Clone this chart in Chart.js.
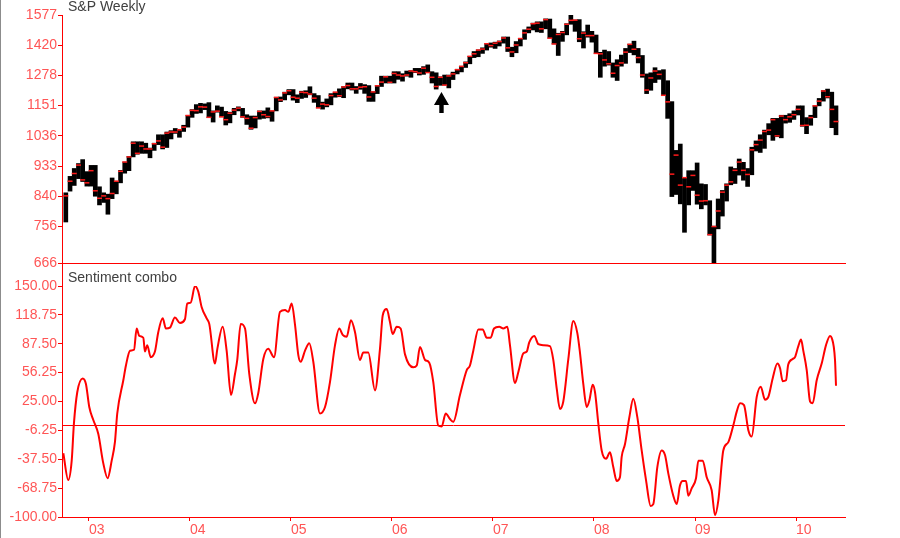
<!DOCTYPE html>
<html>
<head>
<meta charset="utf-8">
<script src="https://cdn.jsdelivr.net/npm/chart.js@4/dist/chart.umd.min.js"></script>
<style>
  body { margin: 0; background: #fff; }
  #wrap { position: relative; width: 899px; height: 538px; border-left: 1px solid #8c8c8c; background: #fff; }
  #top { position: absolute; left: 0; top: 0; }
  #bot { position: absolute; left: 0; top: 264px; }
</style>
</head>
<body>
<div id="wrap">
  <canvas id="bot" width="899" height="274"></canvas>
  <canvas id="top" width="899" height="274"></canvas>
</div>
<script>
// S&P 500, half-month bars from Oct 2002 to May 2010 (high / low / close)
var spHigh = [
  850, 900, 925, 941, 954, 915,                                                                   // 2002 Oct-Dec
  935, 935, 868, 850, 846, 895, 885, 919, 946, 965, 1015, 1015, 1015, 1010, 993, 1010, 1040, 1040, 1050, 1055, 1063, 1060, 1075, 1112, // 2003
  1135, 1155, 1160, 1158, 1163, 1130, 1150, 1145, 1128, 1125, 1140, 1146, 1140, 1115, 1110, 1110, 1130, 1130, 1142, 1130, 1185, 1186, 1206, 1217, // 2004
  1217, 1195, 1210, 1212, 1229, 1200, 1192, 1165, 1178, 1200, 1206, 1220, 1230, 1245, 1245, 1230, 1243, 1238, 1234, 1208, 1235, 1275, 1275, 1275, // 2005
  1295, 1295, 1286, 1298, 1300, 1310, 1310, 1318, 1326, 1295, 1290, 1272, 1280, 1280, 1293, 1306, 1320, 1340, 1366, 1389, 1397, 1407, 1428, 1431, // 2006
  1435, 1441, 1461, 1461, 1410, 1438, 1453, 1498, 1513, 1533, 1540, 1540, 1556, 1555, 1503, 1480, 1490, 1530, 1576, 1550, 1552, 1488, 1523, 1490, // 2007
  1471, 1385, 1396, 1389, 1335, 1350, 1372, 1404, 1425, 1440, 1404, 1370, 1285, 1290, 1313, 1300, 1304, 1255, 1167, 985, 1007, 896, 918, 918,     // 2008
  943, 877, 875, 827, 757, 832, 857, 877, 930, 925, 956, 945, 925, 996, 1018, 1040, 1057, 1081, 1101, 1101, 1113, 1113, 1119, 1130,             // 2009
  1150, 1150, 1104, 1113, 1150, 1180, 1213, 1219, 1206, 1150                                      // 2010 Jan-May
];
var spLow = [
  768, 855, 872, 893, 884, 870,
  870, 840, 815, 822, 789, 833, 847, 880, 910, 918, 963, 972, 975, 975, 960, 985, 1005, 990, 995, 1025, 1045, 1031, 1052, 1068,
  1105, 1120, 1122, 1135, 1104, 1087, 1125, 1107, 1076, 1084, 1115, 1130, 1105, 1078, 1060, 1065, 1098, 1101, 1103, 1090, 1130, 1167, 1174, 1195,
  1173, 1163, 1180, 1184, 1195, 1164, 1142, 1137, 1146, 1154, 1185, 1187, 1183, 1220, 1215, 1201, 1218, 1201, 1168, 1168, 1200, 1230, 1245, 1245,
  1245, 1261, 1253, 1275, 1270, 1291, 1280, 1283, 1291, 1245, 1219, 1235, 1236, 1224, 1260, 1285, 1294, 1314, 1331, 1360, 1364, 1380, 1396, 1410,
  1404, 1416, 1430, 1389, 1364, 1383, 1416, 1449, 1482, 1497, 1487, 1484, 1503, 1455, 1426, 1370, 1439, 1472, 1527, 1490, 1437, 1406, 1460, 1435,
  1380, 1270, 1320, 1325, 1270, 1256, 1320, 1333, 1384, 1373, 1335, 1270, 1200, 1214, 1247, 1261, 1192, 1101, 839, 845, 818, 741, 815, 857,
  817, 804, 815, 734, 666, 750, 784, 826, 874, 878, 904, 888, 869, 905, 983, 978, 992, 1040, 1020, 1033, 1029, 1083, 1086, 1097,
  1114, 1071, 1044, 1075, 1104, 1150, 1169, 1182, 1066, 1040
];
var spClose = [
  841, 885, 909, 936, 889, 880,
  918, 856, 834, 841, 833, 848, 885, 916, 946, 963, 1010, 975, 1000, 990, 990, 1008, 1018, 996, 1046, 1050, 1050, 1058, 1068, 1112,
  1132, 1131, 1146, 1145, 1105, 1126, 1129, 1107, 1096, 1121, 1133, 1141, 1107, 1101, 1064, 1104, 1128, 1115, 1108, 1130, 1184, 1174, 1203, 1212,
  1185, 1181, 1206, 1204, 1198, 1181, 1142, 1157, 1154, 1192, 1206, 1191, 1228, 1234, 1220, 1220, 1227, 1229, 1186, 1207, 1233, 1249, 1272, 1248,
  1287, 1280, 1276, 1280, 1298, 1295, 1289, 1311, 1291, 1270, 1230, 1270, 1236, 1276, 1285, 1304, 1319, 1336, 1366, 1378, 1396, 1401, 1427, 1418,
  1430, 1438, 1456, 1407, 1387, 1421, 1453, 1482, 1501, 1530, 1533, 1503, 1552, 1455, 1426, 1474, 1484, 1527, 1548, 1549, 1452, 1481, 1468, 1468,
  1380, 1378, 1349, 1331, 1288, 1323, 1335, 1386, 1424, 1400, 1360, 1280, 1215, 1267, 1298, 1283, 1193, 1166, 907, 969, 873, 896, 868, 903,
  843, 826, 827, 735, 756, 798, 852, 873, 883, 919, 946, 919, 906, 987, 1005, 1021, 1052, 1057, 1096, 1036, 1110, 1096, 1107, 1115,
  1136, 1074, 1075, 1104, 1150, 1169, 1211, 1187, 1136, 1089
];
var spTicks = [666, 756, 840, 933, 1036, 1151, 1278, 1420, 1577];

// Sentiment combo (x in years)
var sentYears = [
  2002.746, 2002.795, 2002.829, 2002.851, 2002.884, 2002.938, 2002.970,
  2003.003, 2003.043, 2003.092, 2003.142, 2003.185, 2003.225, 2003.257, 2003.280, 2003.340, 2003.366, 2003.406, 2003.446, 2003.472, 2003.498, 2003.538, 2003.554, 2003.577, 2003.611, 2003.653, 2003.686, 2003.730, 2003.762, 2003.802, 2003.851, 2003.901, 2003.950, 2003.973,
  2004.007, 2004.050, 2004.082, 2004.116, 2004.165, 2004.191, 2004.248, 2004.271, 2004.324, 2004.363, 2004.406, 2004.446, 2004.468, 2004.502, 2004.545, 2004.587, 2004.644, 2004.676, 2004.726, 2004.775, 2004.832, 2004.891, 2004.941, 2004.973,
  2005.007, 2005.040, 2005.073, 2005.096, 2005.139, 2005.181, 2005.221, 2005.287, 2005.337, 2005.386, 2005.436, 2005.478, 2005.512, 2005.551, 2005.594, 2005.634, 2005.683, 2005.716, 2005.765, 2005.832, 2005.881, 2005.908, 2005.948, 2005.980,
  2006.007, 2006.047, 2006.086, 2006.129, 2006.211, 2006.245, 2006.277, 2006.327, 2006.369, 2006.409, 2006.458, 2006.492, 2006.532, 2006.574, 2006.607, 2006.673, 2006.740, 2006.772, 2006.805, 2006.855, 2006.898, 2006.938, 2006.977,
  2007.010, 2007.062, 2007.102, 2007.142, 2007.168, 2007.218, 2007.251, 2007.300, 2007.334, 2007.359, 2007.409, 2007.449, 2007.498, 2007.564, 2007.597, 2007.631, 2007.663, 2007.696, 2007.746, 2007.795, 2007.835, 2007.861, 2007.894, 2007.928, 2007.954, 2007.987,
  2008.010, 2008.043, 2008.076, 2008.119, 2008.158, 2008.191, 2008.225, 2008.257, 2008.274, 2008.307, 2008.350, 2008.389, 2008.429, 2008.472, 2008.515, 2008.561, 2008.587, 2008.627, 2008.670, 2008.703, 2008.736, 2008.785, 2008.819, 2008.851, 2008.878, 2008.911, 2008.934, 2008.967,
  2009.010, 2009.033, 2009.076, 2009.116, 2009.165, 2009.198, 2009.231, 2009.280, 2009.330, 2009.379, 2009.413, 2009.446, 2009.485, 2009.528, 2009.561, 2009.611, 2009.651, 2009.693, 2009.726, 2009.769, 2009.815, 2009.842, 2009.868, 2009.901, 2009.923, 2009.967, 2009.990,
  2010.023, 2010.050, 2010.072, 2010.106, 2010.139, 2010.165, 2010.205, 2010.254, 2010.297, 2010.337, 2010.353, 2010.386, 2010.396
];
var sentValues = [
  -31, -60, -39, 1, 35, 50, 44,
  19, 5, -10, -42, -58, -39, -19, 12, 48, 64, 80, 81, 104, 96, 94, 79, 86, 73, 79, 100, 115, 104, 105, 116, 110, 114, 131,
  132, 150, 144, 127, 115, 109, 66, 82, 106, 80, 32, 55, 70, 109, 104, 55, 23, 34, 71, 82, 73, 122, 124, 122,
  131, 108, 75, 68, 80, 88, 68, 12, 19, 46, 86, 104, 97, 95, 113, 100, 70, 78, 78, 37, 82, 118, 125, 111,
  98, 106, 104, 76, 62, 64, 84, 70, 67, 46, -1, -2, 12, 6, 3, 32, 59, 64, 80, 103, 103, 94, 94,
  104, 106, 104, 106, 86, 45, 57, 77, 79, 89, 96, 87, 86, 85, 70, 39, 17, 25, 71, 112, 99, 78, 44, 19, 26, 43,
  35, 1, -28, -37, -30, -46, -61, -57, -35, -21, 8, 28, 8, -28, -60, -88, -86, -46, -28, -33, -53, -77, -86, -66, -61, -61, -77, -69,
  -58, -39, -39, -57, -71, -98, -82, -28, -19, -1, 14, 23, 21, -6, -13, 30, 41, 27, 30, 50, 66, 61, 47, 48, 65, 71, 73,
  85, 92, 80, 59, 25, 23, 48, 66, 86, 96, 94, 70, 42
];
var yearTicks = [2003, 2004, 2005, 2006, 2007, 2008, 2009, 2010];
var yearLabels = ['03', '04', '05', '06', '07', '08', '09', '10'];

// marker arrow under the mid-2006 low
var arrowYear = 2006.49, arrowTip = 1207, arrowTail = 1122;

var AXIS_RED = '#ff0000';
var LABEL_RED = '#ff5555';
var FONT = 'Liberation Sans, Arial, sans-serif';
var X_MIN = 2002.733, X_MAX = 2010.485;

// centre of the i-th half month, counting from October 2002
function periodYear(i) {
  var m = 9 + Math.floor(i / 2);
  return 2002 + (m + (i % 2 ? 0.75 : 0.25)) / 12;
}

var bars = spHigh.map(function (h, i) { return { x: periodYear(i), y: [spLow[i], h] }; });
var closes = spClose.map(function (c, i) { return { x: periodYear(i), y: c }; });
var sentiment = sentYears.map(function (x, i) { return { x: x, y: sentValues[i] }; });

function panelTitle(text) {
  return {
    id: 'panelTitle',
    afterDraw: function (chart) {
      var ctx = chart.ctx;
      ctx.save();
      ctx.font = '14px ' + FONT;
      ctx.fillStyle = '#404040';
      ctx.textBaseline = 'alphabetic';
      ctx.fillText(text, chart.chartArea.left + 6, chart.chartArea.top - 4);
      ctx.restore();
    }
  };
}

var arrowPlugin = {
  id: 'arrow',
  afterDatasetsDraw: function (chart) {
    var ctx = chart.ctx;
    var x = chart.scales.x.getPixelForValue(arrowYear);
    var tip = chart.scales.y.getPixelForValue(arrowTip);
    var tail = chart.scales.y.getPixelForValue(arrowTail);
    ctx.save();
    ctx.fillStyle = '#000';
    ctx.beginPath();
    ctx.moveTo(x, tip);
    ctx.lineTo(x + 7.5, tip + 13);
    ctx.lineTo(x + 2.2, tip + 13);
    ctx.lineTo(x + 2.2, tail);
    ctx.lineTo(x - 2.2, tail);
    ctx.lineTo(x - 2.2, tip + 13);
    ctx.lineTo(x - 7.5, tip + 13);
    ctx.closePath();
    ctx.fill();
    ctx.restore();
  }
};

var zeroLine = {
  id: 'zeroLine',
  beforeDatasetsDraw: function (chart) {
    var ctx = chart.ctx, a = chart.chartArea;
    var y = Math.round(chart.scales.y.getPixelForValue(0)) + 0.5;
    ctx.save();
    ctx.strokeStyle = AXIS_RED;
    ctx.lineWidth = 1;
    ctx.beginPath();
    ctx.moveTo(a.left, y);
    ctx.lineTo(a.right, y);
    // left axis carries on up to the price panel
    ctx.moveTo(a.left + 0.5, 0);
    ctx.lineTo(a.left + 0.5, a.top);
    ctx.stroke();
    ctx.restore();
  }
};

function yAxis(extra) {
  var axis = {
    ticks: { color: LABEL_RED, font: { family: FONT, size: 14 }, padding: 1 },
    grid: { drawOnChartArea: false, tickLength: 4, color: AXIS_RED },
    border: { color: AXIS_RED, width: 1 },
    afterFit: function (s) { s.width = 61; }
  };
  for (var k in extra) axis[k] = extra[k];
  return axis;
}

new Chart(document.getElementById('top'), {
  type: 'bar',
  data: {
    datasets: [
      { type: 'bar', data: bars, backgroundColor: '#000', borderWidth: 0, barThickness: 4, order: 2 },
      { type: 'line', data: closes, showLine: false, pointStyle: 'line', pointRadius: 2.5,
        pointBorderColor: '#ff1a1a', pointBorderWidth: 1.5, order: 1 }
    ]
  },
  options: {
    responsive: false,
    animation: false,
    layout: { padding: { top: 15, right: 55, left: 0, bottom: 10 } },
    plugins: { legend: { display: false }, tooltip: { enabled: false } },
    scales: {
      x: {
        type: 'linear', min: X_MIN, max: X_MAX, offset: false,
        grid: { display: false, offset: false },
        ticks: { display: false },
        border: { color: AXIS_RED, width: 1 },
        afterFit: function (s) { s.height = 1; }
      },
      y: yAxis({
        type: 'logarithmic', min: 666, max: 1577,
        afterBuildTicks: function (s) { s.ticks = spTicks.map(function (v) { return { value: v }; }); },
        ticks: { color: LABEL_RED, font: { family: FONT, size: 14 }, padding: 1,
                 callback: function (v) { return String(v); } }
      })
    }
  },
  plugins: [panelTitle('S&P Weekly'), arrowPlugin]
});

new Chart(document.getElementById('bot'), {
  type: 'line',
  data: {
    datasets: [{
      data: sentiment, borderColor: '#ff0000', borderWidth: 2, pointRadius: 0,
      fill: false, cubicInterpolationMode: 'monotone'
    }]
  },
  options: {
    responsive: false,
    animation: false,
    layout: { padding: { top: 22, right: 55, left: 0, bottom: 0 } },
    plugins: { legend: { display: false }, tooltip: { enabled: false } },
    scales: {
      x: {
        type: 'linear', min: X_MIN, max: X_MAX,
        afterBuildTicks: function (s) { s.ticks = yearTicks.map(function (v) { return { value: v }; }); },
        ticks: {
          color: LABEL_RED, font: { family: FONT, size: 14 }, padding: 1, align: 'start',
          maxRotation: 0, autoSkip: false,
          callback: function (v) { return yearLabels[yearTicks.indexOf(v)]; }
        },
        grid: { drawOnChartArea: false, tickLength: 4, color: AXIS_RED },
        border: { color: AXIS_RED, width: 1 },
        afterFit: function (s) { s.height = 21; }
      },
      y: yAxis({
        type: 'linear', min: -100, max: 150,
        ticks: { color: LABEL_RED, font: { family: FONT, size: 14 }, padding: 1, stepSize: 31.25,
                 callback: function (v) { return v.toFixed(2); } }
      })
    }
  },
  plugins: [panelTitle('Sentiment combo'), zeroLine]
});
</script>
</body>
</html>
